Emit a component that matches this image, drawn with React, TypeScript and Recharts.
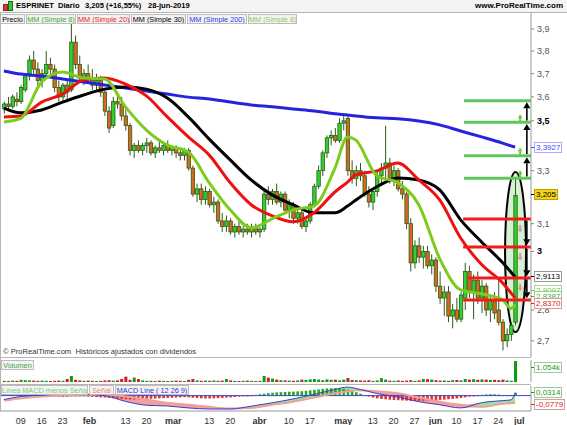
import React from "react";
import {
  Area,
  Bar,
  ComposedChart,
  Line,
  ReferenceArea,
  ReferenceLine,
  XAxis,
  YAxis,
} from "recharts";

const FONT = '"Liberation Sans", Arial, Helvetica, sans-serif';
const CHART_W = 567;
const AXIS_W = 36;
const X_DOMAIN: [number, number] = [-4.94, 121.79];
const PRICE_DOMAIN: [number, number] = [2.649, 3.979];
const FIRST_DAY = -4; // day 0 = 09-jan-2019, one step per session

const WICK = "#2e5a17";
const UP = "#2fd12f";
const DOWN = "#d4691f";

// OHLC per session, from 03-jan to 28-jun-2019
const opens = [
  3.55, 3.57, 3.56, 3.59, 3.58, 3.63, 3.69, 3.76, 3.72, 3.67,
  3.7, 3.74, 3.72, 3.64, 3.6, 3.65, 3.63, 3.84, 3.74, 3.68,
  3.7, 3.68, 3.65, 3.67, 3.62, 3.54, 3.48, 3.58, 3.57, 3.52,
  3.48, 3.38, 3.4, 3.38, 3.4, 3.41, 3.37, 3.39, 3.38, 3.4,
  3.38, 3.39, 3.37, 3.36, 3.38, 3.31, 3.21, 3.23, 3.19, 3.22,
  3.17, 3.18, 3.11, 3.09, 3.11, 3.07, 3.09, 3.07, 3.08, 3.07,
  3.09, 3.07, 3.08, 3.21, 3.19, 3.22, 3.18, 3.21, 3.15, 3.17,
  3.12, 3.14, 3.09, 3.11, 3.17, 3.24, 3.3, 3.37, 3.43, 3.44,
  3.42, 3.49, 3.51, 3.3, 3.27, 3.3, 3.28, 3.21, 3.18, 3.22,
  3.28, 3.31, 3.33, 3.27, 3.3, 3.23, 3.21, 3.1, 2.96, 3.02,
  2.98, 3.0, 2.95, 2.97, 2.88, 2.84, 2.86, 2.78, 2.8, 2.77,
  2.84, 2.93, 2.86, 2.9, 2.84, 2.88, 2.8, 2.83, 2.8, 2.76,
  2.7, 2.72, 2.76,
];
const highs = [
  3.58, 3.6, 3.61, 3.62, 3.65, 3.7, 3.78, 3.8, 3.75, 3.72,
  3.8, 3.77, 3.74, 3.67, 3.66, 3.68, 3.93, 3.87, 3.78, 3.72,
  3.74, 3.72, 3.7, 3.69, 3.63, 3.56, 3.6, 3.62, 3.6, 3.55,
  3.49, 3.41, 3.42, 3.41, 3.43, 3.42, 3.4, 3.42, 3.41, 3.42,
  3.4, 3.4, 3.39, 3.39, 3.39, 3.32, 3.25, 3.25, 3.24, 3.23,
  3.2, 3.19, 3.14, 3.13, 3.12, 3.1, 3.11, 3.09, 3.1, 3.1,
  3.1, 3.09, 3.23, 3.24, 3.23, 3.25, 3.22, 3.22, 3.19, 3.18,
  3.16, 3.15, 3.12, 3.18, 3.25, 3.32, 3.38, 3.44, 3.46, 3.47,
  3.51, 3.53, 3.52, 3.34, 3.32, 3.33, 3.3, 3.24, 3.23, 3.3,
  3.33, 3.48, 3.35, 3.32, 3.31, 3.26, 3.22, 3.12, 3.04, 3.05,
  3.02, 3.02, 2.99, 2.98, 2.93, 2.88, 2.88, 2.82, 2.84, 2.86,
  2.96, 2.95, 2.92, 2.93, 2.9, 2.89, 2.85, 2.86, 2.9, 2.77,
  2.74, 2.76, 3.27,
];
const lows = [
  3.53, 3.54, 3.55, 3.56, 3.57, 3.62, 3.67, 3.7, 3.65, 3.64,
  3.68, 3.7, 3.62, 3.58, 3.58, 3.59, 3.62, 3.72, 3.66, 3.65,
  3.66, 3.63, 3.62, 3.6, 3.52, 3.45, 3.47, 3.55, 3.5, 3.46,
  3.36, 3.35, 3.37, 3.36, 3.37, 3.36, 3.35, 3.37, 3.36, 3.37,
  3.36, 3.35, 3.34, 3.34, 3.3, 3.2, 3.18, 3.17, 3.17, 3.16,
  3.14, 3.1, 3.07, 3.07, 3.06, 3.05, 3.06, 3.05, 3.06, 3.05,
  3.06, 3.05, 3.07, 3.17, 3.17, 3.17, 3.16, 3.14, 3.12, 3.1,
  3.1, 3.08, 3.07, 3.1, 3.16, 3.23, 3.28, 3.35, 3.4, 3.41,
  3.41, 3.46, 3.28, 3.25, 3.24, 3.26, 3.2, 3.16, 3.15, 3.2,
  3.25, 3.27, 3.25, 3.24, 3.22, 3.19, 3.08, 2.93, 2.94, 2.96,
  2.94, 2.94, 2.92, 2.86, 2.82, 2.78, 2.76, 2.74, 2.76, 2.76,
  2.8, 2.84, 2.77, 2.82, 2.79, 2.78, 2.76, 2.77, 2.75, 2.67,
  2.68, 2.7, 2.75,
];
const closes = [
  3.57, 3.56, 3.6, 3.58, 3.64, 3.69, 3.76, 3.72, 3.67, 3.7,
  3.74, 3.72, 3.64, 3.6, 3.65, 3.62, 3.84, 3.74, 3.68, 3.7,
  3.68, 3.65, 3.67, 3.62, 3.54, 3.47, 3.58, 3.57, 3.52, 3.48,
  3.38, 3.4, 3.38, 3.4, 3.41, 3.37, 3.39, 3.38, 3.4, 3.38,
  3.39, 3.37, 3.36, 3.38, 3.31, 3.21, 3.23, 3.19, 3.22, 3.17,
  3.18, 3.11, 3.09, 3.11, 3.07, 3.09, 3.07, 3.08, 3.07, 3.09,
  3.07, 3.08, 3.21, 3.19, 3.22, 3.18, 3.21, 3.15, 3.17, 3.12,
  3.14, 3.09, 3.11, 3.17, 3.24, 3.3, 3.37, 3.43, 3.44, 3.42,
  3.49, 3.5, 3.3, 3.27, 3.3, 3.28, 3.21, 3.18, 3.22, 3.28,
  3.31, 3.33, 3.27, 3.3, 3.23, 3.21, 3.1, 2.96, 3.02, 2.98,
  3.0, 2.95, 2.97, 2.88, 2.84, 2.86, 2.78, 2.8, 2.77, 2.85,
  2.93, 2.86, 2.9, 2.84, 2.88, 2.8, 2.83, 2.79, 2.76, 2.7,
  2.72, 2.75, 3.205,
];
// volume in thousands
const volumes = [
  60, 50, 70, 60, 110,
  90, 80, 70, 60, 70, 60, 50, 60, 70, 60,
  150, 300, 110, 80, 60, 70, 60, 50, 60, 80,
  90, 70, 80, 150, 270, 110, 220, 150, 80, 60,
  60, 50, 70, 60, 50, 60, 70, 60, 50, 110,
  150, 80, 60, 70, 60, 80, 60, 70, 150, 80,
  60, 50, 60, 70, 60, 50, 60, 300, 220, 170,
  120, 90, 80, 70, 60, 80, 120, 100, 130, 150,
  120, 90, 130, 110, 120, 80, 120, 200, 100, 90,
  80, 70, 90, 60, 80, 190, 120, 70, 60, 80,
  60, 70, 90, 60, 80, 150, 140, 120, 90, 70,
  80, 60, 90, 100, 80, 150, 120, 140, 110, 130,
  120, 100, 110, 90, 120, 80, 60,
  1054,
];
// MACD minus signal, per session
const macdHist = [
  0.004, 0.005, 0.006, 0.006,
  0.006, 0.006, 0.005, 0.004, 0.003, 0.002, 0.001, 0.0, -0.002,
  -0.012, -0.015, -0.012, -0.008,
  -0.004, -0.002, -0.004,
  -0.01, -0.012, -0.015, -0.018, -0.02, -0.024, -0.028, -0.032, -0.035, -0.038,
  -0.04, -0.04, -0.038, -0.036, -0.034, -0.032, -0.03, -0.028, -0.026, -0.024, -0.022,
  -0.02, -0.018, -0.016,
  -0.018, -0.022, -0.025, -0.028, -0.03, -0.03, -0.028, -0.026, -0.024, -0.02,
  -0.018, -0.014, -0.01, -0.006, -0.003, 0.002,
  0.008, 0.014, 0.02, 0.026, 0.03, 0.034, 0.036, 0.038, 0.04, 0.042, 0.044, 0.046,
  0.05, 0.055, 0.06, 0.065, 0.07, 0.074, 0.077, 0.078, 0.075, 0.07, 0.062,
  0.05, 0.035, 0.02, 0.005, -0.01, -0.02, -0.028, -0.034, -0.038, -0.042, -0.045,
  -0.048, -0.05, -0.052, -0.054, -0.055, -0.055, -0.054, -0.052, -0.05, -0.048,
  -0.045, -0.042, -0.038, -0.034, -0.03, -0.024, -0.018,
  -0.01, -0.004, 0.002, 0.008, 0.012, 0.015, 0.014, 0.01, 0.006, 0.004, 0.003,
  0.0314,
];

// moving averages / MACD read at these sessions
const maIdx = [-4, 0, 5, 10, 15, 20, 25, 30, 35, 40, 45, 50, 55, 60, 65, 70, 75, 78, 80, 85, 90, 95, 100, 105, 110, 115, 117, 118];
const ma8 = [3.495, 3.51, 3.664, 3.707, 3.681, 3.677, 3.558, 3.462, 3.401, 3.373, 3.253, 3.151, 3.085, 3.118, 3.151, 3.166, 3.31, 3.434, 3.421, 3.28, 3.253, 3.17, 2.975, 2.867, 2.854, 2.834, 2.805, 2.818];
const ma20 = [3.516, 3.52, 3.578, 3.612, 3.672, 3.681, 3.655, 3.604, 3.516, 3.434, 3.361, 3.253, 3.17, 3.129, 3.107, 3.14, 3.218, 3.256, 3.284, 3.299, 3.33, 3.264, 3.188, 3.048, 2.954, 2.891, 2.857, 2.84];
const ma30 = [3.553, 3.533, 3.545, 3.578, 3.608, 3.633, 3.642, 3.633, 3.595, 3.516, 3.425, 3.342, 3.264, 3.207, 3.17, 3.14, 3.14, 3.165, 3.188, 3.238, 3.272, 3.264, 3.226, 3.114, 3.034, 2.961, 2.928, 2.911];
const ma200 = [3.712, 3.698, 3.69, 3.677, 3.664, 3.651, 3.638, 3.625, 3.612, 3.599, 3.591, 3.578, 3.566, 3.558, 3.549, 3.541, 3.529, 3.524, 3.52, 3.512, 3.508, 3.499, 3.483, 3.458, 3.434, 3.409, 3.398, 3.393];
const macdLine = [-0.041, -0.009, 0.005, 0.013, 0.013, 0.0, -0.06, -0.1, -0.108, -0.128, -0.139, -0.139, -0.11, -0.075, -0.035, 0.013, 0.065, 0.089, 0.075, 0.022, -0.015, -0.063, -0.095, -0.128, -0.074, -0.052, -0.045, 0.024];
const signalLine = [-0.052, -0.03, -0.009, 0.002, 0.008, 0.008, -0.009, -0.041, -0.074, -0.095, -0.117, -0.133, -0.128, -0.095, -0.063, -0.02, 0.024, 0.045, 0.056, 0.046, 0.024, -0.02, -0.063, -0.095, -0.117, -0.085, -0.08, -0.074];

const tickIdx = [0, 5, 10, 16.4, 25, 30, 36.4, 45, 50, 57, 64, 69, 77, 84, 89, 94, 99, 104, 109, 114, 119];
const tickLabels = ["09", "16", "23", "feb", "13", "20", "mar", "13", "20", "abr", "10", "17", "may", "13", "20", "27", "jun", "10", "17", "24", "jul"];
const priceTicks = [2.7, 2.8, 3, 3.1, 3.3, 3.5, 3.6, 3.7, 3.8, 3.9];

// projected target levels drawn at the right
const targetsUp = [3.271, 3.359, 3.494, 3.584];
const targetsDown = [3.117, 3.016, 2.908, 2.833];

const priceLegend = [
  { text: "Precio", color: "#000", left: 0, width: 25 },
  { text: "MM (Simple 8)", color: "#3aa83a", left: 26, width: 50 },
  { text: "MM (Simple 20)", color: "#e22", left: 77, width: 53 },
  { text: "MM (Simple 30)", color: "#000", left: 131, width: 55 },
  { text: "MM (Simple 200)", color: "#3333ee", left: 187, width: 60 },
  { text: "MM (Simple 8)", color: "#8fcc55", left: 248, width: 49 },
];
const macdLegend = [
  { text: "Línea MACD menos Señal", color: "#77cc77", left: 1, width: 87 },
  { text: "Señal", color: "#ee8877", left: 89, width: 25 },
  { text: "MACD Line ( 12 26 9)", color: "#3333cc", left: 115, width: 74 },
];

const candles = opens.map((o, i) => ({
  day: FIRST_DAY + i,
  open: o,
  high: highs[i],
  low: lows[i],
  close: closes[i],
  range: [lows[i], highs[i]],
  vol: volumes[i],
  hist: macdHist[i],
  up: closes[i] >= o,
}));

const maRows = maIdx.map((d, i) => ({ day: d, ma8: ma8[i], ma20: ma20[i], ma30: ma30[i], ma200: ma200[i] }));

const macdRows = maIdx.map((d, i) => {
  const m = macdLine[i];
  const s = signalLine[i];
  return {
    day: d,
    macd: m,
    signal: s,
    upBand: m >= s ? [s, m] : [m, m],
    downBand: m < s ? [m, s] : [m, m],
  };
});

const fmt = (v: number) => String(v).replace(".", ",");

function Candle(props: any) {
  const { x, y, width, height, payload } = props;
  if (!payload || height == null || isNaN(y)) return null;
  const top = Math.min(y, y + height);
  const bot = Math.max(y, y + height);
  const lh = Math.log(payload.high);
  const ll = Math.log(payload.low);
  const at = (v: number) => top + ((bot - top) * (lh - Math.log(v))) / (lh - ll || 1);
  const cx = x + width / 2;
  const yo = at(payload.open);
  const yc = at(payload.close);
  return (
    <g>
      <line x1={cx} x2={cx} y1={top} y2={bot} stroke={WICK} strokeWidth={1} />
      <rect
        x={cx - 1.7}
        y={Math.min(yo, yc)}
        width={3.4}
        height={Math.max(Math.abs(yc - yo), 1)}
        fill={payload.up ? UP : DOWN}
        stroke={WICK}
        strokeWidth={0.8}
      />
    </g>
  );
}

function VolBar(props: any) {
  const { x, y, width, height, payload } = props;
  if (!payload) return null;
  const top = Math.min(y, y + height);
  return <rect x={x + width / 2 - 1.5} y={top} width={3} height={Math.max(Math.abs(height), 1)} fill={payload.up ? "#119911" : "#cc2222"} />;
}

function HistBar(props: any) {
  const { x, y, width, height, payload } = props;
  if (!payload) return null;
  const top = Math.min(y, y + height);
  return <rect x={x + width / 2 - 1.3} y={top} width={2.6} height={Math.max(Math.abs(height), 0.8)} fill={payload.hist >= 0 ? "#22aa22" : "#dd3333"} />;
}

function PriceTick(props: any) {
  const { x, y, payload } = props;
  const v = payload.value;
  const major = v === 3 || v === 3.5;
  return (
    <text x={x + 1} y={y + 3} fontSize={9} fontFamily={FONT} fill={major ? "#000" : "#555"} fontWeight={major ? 700 : 400}>
      {fmt(v)}
    </text>
  );
}

function DateTick(props: any) {
  const { x, y, payload } = props;
  const label = tickLabels[tickIdx.indexOf(payload.value)] ?? "";
  const month = isNaN(Number(label));
  return (
    <text x={x} y={y + 11} textAnchor="middle" fontSize={9} fontFamily={FONT} fill="#333" fontWeight={month ? 700 : 400}>
      {label}
    </text>
  );
}

const arrow = (color: string, w: number, head: number) => (p: any) => {
  const { x1, y1, x2, y2 } = p;
  const dir = y2 < y1 ? -1 : 1;
  return (
    <g>
      <line x1={x1} y1={y1} x2={x2} y2={y2 - dir * head} stroke={color} strokeWidth={w} />
      <polygon points={`${x2},${y2} ${x2 - head * 0.6},${y2 - dir * head} ${x2 + head * 0.6},${y2 - dir * head}`} fill={color} />
    </g>
  );
};

function Ellipse(p: any) {
  return (
    <ellipse
      cx={p.x + p.width / 2}
      cy={p.y + p.height / 2}
      rx={Math.abs(p.width) / 2}
      ry={Math.abs(p.height) / 2}
      fill="#9fe09f"
      fillOpacity={0.45}
      stroke="#000"
      strokeWidth={2}
    />
  );
}

function LegendBox({ text, color, left, width, top }: { text: string; color: string; left: number; width: number; top: number }) {
  return (
    <div
      style={{
        position: "absolute",
        left,
        top,
        width,
        height: 10,
        boxSizing: "border-box",
        border: "1px solid #bdbdbd",
        background: "#f3f3f3",
        color,
        fontSize: 7.3,
        lineHeight: "9px",
        textAlign: "center",
        whiteSpace: "nowrap",
        overflow: "hidden",
      }}
    >
      {text}
    </div>
  );
}

// value tag on the right scale, with its small tick mark
function Tag({ top, text, color, border, bg = "#fff" }: { top: number; text: string; color: string; border: string; bg?: string }) {
  return (
    <>
      <div style={{ position: "absolute", left: 531, top: top + 5, width: 3, height: 1, background: color }} />
      <div
        style={{
          position: "absolute",
          left: 534,
          top,
          fontSize: 8,
          lineHeight: "9px",
          padding: "0 1px",
          whiteSpace: "nowrap",
          color,
          background: bg,
          border: `1px solid ${border}`,
        }}
      >
        {text}
      </div>
    </>
  );
}

const hLine = (top: number): React.CSSProperties => ({ position: "absolute", left: 0, top, width: 531, height: 1, background: "#b5b5b5" });

export default function App() {
  const upArrows = targetsUp.slice(0, 3).map((v, i) => [v * 1.002, targetsUp[i + 1] * 0.998]);
  const downArrows = targetsDown.slice(0, 3).map((v, i) => [v * 0.998, targetsDown[i + 1] * 1.002]);
  return (
    <div
      style={{
        position: "absolute",
        left: 0,
        top: 0,
        width: CHART_W,
        height: 425,
        background: "#fff",
        fontFamily: FONT,
        overflow: "hidden",
      }}
    >
      {/* title bar */}
      <div style={{ position: "absolute", left: 0, top: 0, width: CHART_W, height: 12, background: "#f4f4f4", borderBottom: "1px solid #b5b5b5" }}>
        <div style={{ position: "absolute", left: 3, top: 4, width: 3, height: 5, background: "#dd3333", border: "1px solid #922" }} />
        <div style={{ position: "absolute", left: 8, top: 1, width: 3, height: 8, background: "#33cc33", border: "1px solid #262" }} />
        <div style={{ position: "absolute", left: 16, top: 0, fontSize: 7.6, fontWeight: 700, lineHeight: "12px", whiteSpace: "nowrap" }}>ESPRINET</div>
        <div style={{ position: "absolute", left: 58, top: 0, fontSize: 7.6, fontWeight: 700, lineHeight: "12px", whiteSpace: "nowrap" }}>Diario</div>
        <div style={{ position: "absolute", left: 85, top: 0, fontSize: 7.6, fontWeight: 700, lineHeight: "12px", whiteSpace: "nowrap" }}>3,205 (+16,55%)</div>
        <div style={{ position: "absolute", left: 148, top: 0, fontSize: 7.6, fontWeight: 700, lineHeight: "12px", whiteSpace: "nowrap" }}>28-jun-2019</div>
        <div style={{ position: "absolute", right: 4, top: 0, fontSize: 8, fontWeight: 700, lineHeight: "12px" }}>www.ProRealTime.com</div>
      </div>

      {/* price panel */}
      <div style={{ position: "absolute", left: 0, top: 12 }}>
        <ComposedChart width={CHART_W} height={345} data={candles} margin={{ top: 0, right: 0, left: 0, bottom: 0 }}>
          <XAxis dataKey="day" type="number" domain={X_DOMAIN} allowDataOverflow hide />
          <YAxis
            orientation="right"
            scale="log"
            domain={PRICE_DOMAIN}
            allowDataOverflow
            ticks={priceTicks}
            interval={0}
            width={AXIS_W}
            tick={<PriceTick />}
            tickSize={3}
            tickLine={{ stroke: "#888" }}
            axisLine={{ stroke: "#999" }}
          />
          <Bar dataKey="range" barSize={3} shape={Candle} isAnimationActive={false} />
          <Line data={maRows} dataKey="ma200" type="monotone" stroke="#2424e0" strokeWidth={3} dot={false} isAnimationActive={false} />
          <Line data={maRows} dataKey="ma30" type="monotone" stroke="#000" strokeWidth={3} dot={false} isAnimationActive={false} />
          <Line data={maRows} dataKey="ma20" type="monotone" stroke="#f01010" strokeWidth={3} dot={false} isAnimationActive={false} />
          <Line data={maRows} dataKey="ma8" type="monotone" stroke="#7ccc1e" strokeWidth={3} dot={false} isAnimationActive={false} />
          <ReferenceArea x1={115.6} x2={120.6} y1={2.728} y2={3.295} shape={Ellipse} ifOverflow="visible" />
          {targetsUp.map((v) => (
            <ReferenceLine key={"g" + v} segment={[{ x: 105.8, y: v }, { x: X_DOMAIN[1], y: v }]} stroke="#5ec85e" strokeWidth={3} />
          ))}
          {targetsDown.map((v, i) => (
            <ReferenceLine key={"r" + v} segment={[{ x: i === 2 ? 106.8 : 105.6, y: v }, { x: X_DOMAIN[1], y: v }]} stroke="#f51a1a" strokeWidth={3} />
          ))}
          {upArrows.map(([a, b]) => (
            <ReferenceLine key={"ua" + a} segment={[{ x: 120.8, y: a }, { x: 120.8, y: b }]} shape={arrow("#000", 1.6, 6)} />
          ))}
          {downArrows.map(([a, b]) => (
            <ReferenceLine key={"da" + a} segment={[{ x: 120.8, y: a }, { x: 120.8, y: b }]} shape={arrow("#000", 1.6, 6)} />
          ))}
          {targetsUp.slice(0, 3).map((v) => (
            <ReferenceLine key={"sg" + v} segment={[{ x: 119.2, y: v * 1.001 }, { x: 119.2, y: v * 1.0095 }]} shape={arrow("#66cc33", 2, 4)} />
          ))}
          {targetsDown.slice(0, 3).map((v) => (
            <ReferenceLine key={"sr" + v} segment={[{ x: 119.2, y: v * 0.993 }, { x: 119.2, y: v * 0.984 }]} shape={arrow("rgba(220,90,90,0.6)", 2, 4)} />
          ))}
        </ComposedChart>
      </div>
      {priceLegend.map((l) => (
        <LegendBox key={l.left} {...l} top={14} />
      ))}
      <div style={{ position: "absolute", left: 3, top: 347, fontSize: 7.6, lineHeight: "10px", color: "#333", whiteSpace: "nowrap" }}>
        © ProRealTime.com&nbsp; Históricos ajustados con dividendos
      </div>

      {/* volume panel */}
      <div style={{ position: "absolute", left: 0, top: 357 }}>
        <ComposedChart width={CHART_W} height={27} data={candles} margin={{ top: 3, right: 0, left: 0, bottom: 2 }}>
          <XAxis dataKey="day" type="number" domain={X_DOMAIN} allowDataOverflow hide />
          <YAxis orientation="right" width={AXIS_W} domain={[0, 1104]} allowDataOverflow tick={false} tickLine={false} axisLine={{ stroke: "#999" }} />
          <Bar dataKey="vol" barSize={3} shape={VolBar} isAnimationActive={false} />
        </ComposedChart>
      </div>
      <LegendBox text="Volumen" color="#3aa83a" left={1} width={33} top={360} />

      {/* MACD panel */}
      <div style={{ position: "absolute", left: 0, top: 384 }}>
        <ComposedChart width={CHART_W} height={41} data={candles} margin={{ top: 2, right: 0, left: 0, bottom: 0 }}>
          <XAxis
            dataKey="day"
            type="number"
            domain={X_DOMAIN}
            allowDataOverflow
            ticks={tickIdx}
            interval={0}
            height={14}
            tickLine={false}
            tickSize={0}
            axisLine={{ stroke: "#999" }}
            tick={<DateTick />}
          />
          <YAxis orientation="right" width={AXIS_W} domain={[-0.16, 0.1]} allowDataOverflow tick={false} tickLine={false} axisLine={{ stroke: "#999" }} />
          <ReferenceLine y={0} stroke="#4040d0" strokeWidth={1} />
          <Area data={macdRows} dataKey="upBand" type="monotone" stroke="none" fill="#66dd66" fillOpacity={0.7} isAnimationActive={false} />
          <Area data={macdRows} dataKey="downBand" type="monotone" stroke="none" fill="#ee7777" fillOpacity={0.7} isAnimationActive={false} />
          <Bar dataKey="hist" barSize={3} shape={HistBar} isAnimationActive={false} />
          <Line data={macdRows} dataKey="signal" type="monotone" stroke="#f0a098" strokeWidth={2} dot={false} isAnimationActive={false} />
          <Line data={macdRows} dataKey="macd" type="monotone" stroke="#3b3bd6" strokeWidth={1} dot={false} isAnimationActive={false} />
        </ComposedChart>
      </div>
      {macdLegend.map((l) => (
        <LegendBox key={l.left} {...l} top={385} />
      ))}

      {/* panel separators */}
      <div style={hLine(357)} />
      <div style={hLine(384)} />
      <div style={{ position: "absolute", left: 0, top: 12, width: 1, height: 399, background: "#b5b5b5" }} />

      {/* value tags on the price scale */}
      <Tag top={142} text="3,3927" color="#4444ff" border="#aaaaff" />
      <Tag top={189} text="3,205" color="#000" border="#c0a000" bg="#f2d21b" />
      <Tag top={271} text="2,9113" color="#000" border="#999" />
      <Tag top={285} text="2,9097" color="#77cc44" border="#aade88" />
      <Tag top={291} text="2,8387" color="#44aa44" border="#99cc99" />
      <Tag top={298} text="2,8370" color="#dd2222" border="#dd9999" />
      <Tag top={362} text="1.054k" color="#229922" border="#99cc99" />
      <Tag top={387} text="0,0314" color="#229922" border="#99cc99" />
      <Tag top={399} text="-0,0779" color="#dd2222" border="#dd9999" />
    </div>
  );
}
